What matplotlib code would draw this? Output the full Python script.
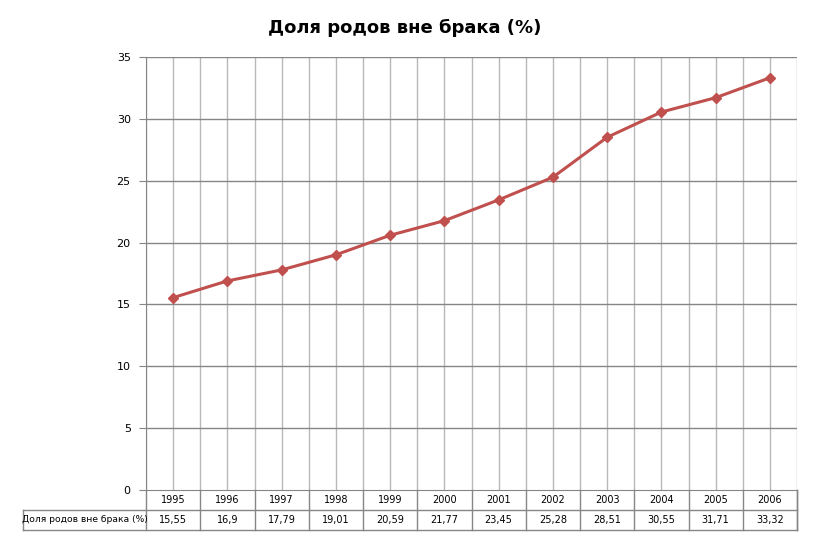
import numpy as np
import matplotlib.pyplot as plt

years = ['1995', '1996', '1997', '1998', '1999', '2000', '2001', '2002', '2003', '2004', '2005', '2006']
values = [15.55, 16.9, 17.79, 19.01, 20.59, 21.77, 23.45, 25.28, 28.51, 30.55, 31.71, 33.32]
value_labels = ['15,55', '16,9', '17,79', '19,01', '20,59', '21,77', '23,45', '25,28', '28,51', '30,55', '31,71', '33,32']
series_name = 'Доля родов вне брака (%)'

W, H = 813, 542
fig = plt.figure(figsize=(W / 100, H / 100), dpi=100)
plt.rcParams['font.family'] = ['DejaVu Sans']

grid_dark = '#868686'
grid_light = '#b8b8b8'
line_col = '#C0504D'

# main plot area in pixels
left, right, top, bottom = 146, 797, 57, 490
ax = fig.add_axes([left / W, 1 - bottom / H, (right - left) / W, (bottom - top) / H])
x = np.arange(len(years))
ax.set_xlim(-0.5, len(years) - 0.5)
ax.set_ylim(0, 35)
ax.set_yticks(range(0, 36, 5))
for xv in np.arange(-0.5, len(years), 0.5):
    ax.axvline(xv, color=grid_light, lw=1, zorder=1)
for yv in range(5, 36, 5):
    ax.axhline(yv, color=grid_dark, lw=1, zorder=1)
ax.plot(x, values, color=line_col, lw=2.2, marker='D', markersize=5.5, zorder=3)
ax.set_xticks([])
for s in ax.spines.values():
    s.set_color(grid_dark)
ax.spines['top'].set_visible(False)
ax.spines['right'].set_visible(False)
ax.tick_params(axis='y', length=5, color=grid_dark, labelsize=8, pad=6)

# data table under the plot
tab = fig.add_axes([left / W, 1 - 530 / H, (right - left) / W, 40 / H])
tab.set_xlim(-0.5, len(years) - 0.5)
tab.set_ylim(0, 2)
tab.axis('off')
cat_px = (right - left) / len(years)
label_left = -0.5 - (left - 23) / cat_px
lc = grid_dark
for xb in np.arange(-0.5, len(years), 1.0):
    tab.plot([xb, xb], [0, 2], color=lc, lw=1, clip_on=False)
tab.plot([len(years) - 0.5] * 2, [0, 2], color=lc, lw=1, clip_on=False)
tab.plot([label_left, len(years) - 0.5], [1, 1], color=lc, lw=1, clip_on=False)
tab.plot([label_left, len(years) - 0.5], [0, 0], color=lc, lw=1, clip_on=False)
tab.plot([label_left, label_left], [0, 1], color=lc, lw=1, clip_on=False)
for i, (yr, vl) in enumerate(zip(years, value_labels)):
    tab.text(i, 1.5, yr, ha='center', va='center', fontsize=7)
    tab.text(i, 0.5, vl, ha='center', va='center', fontsize=7)
tab.text((label_left - 0.5) / 2, 0.5, series_name, ha='center', va='center', fontsize=6.6)

fig.text(405 / W, 1 - 28 / H, series_name, ha='center', va='center', fontsize=13, fontweight='bold')

fig.savefig('out.png', dpi=100)
